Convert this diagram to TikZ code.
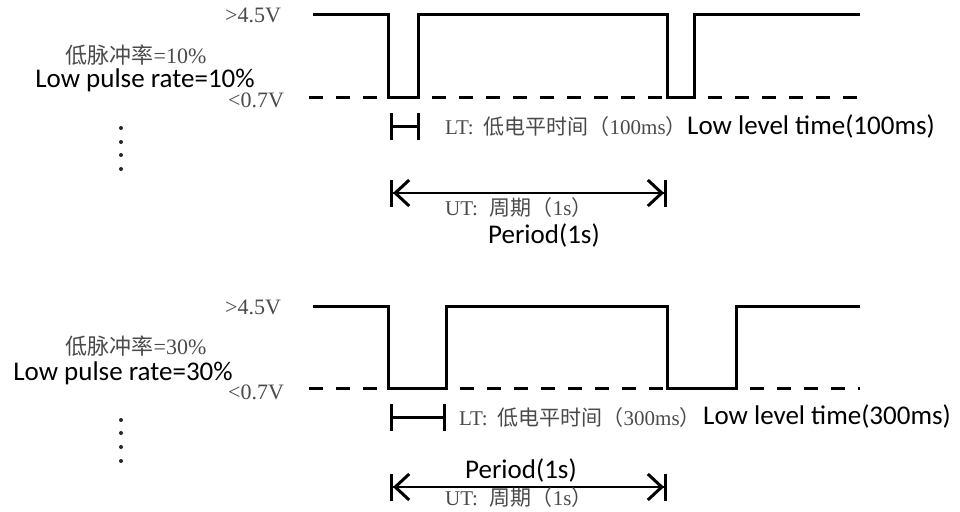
\documentclass[tikz,border=0pt]{standalone}
\usepackage{fontspec}
\setmainfont{Liberation Serif}
\newfontfamily\enfont{Carlito}
\newfontfamily\cjk{Noto Sans CJK SC}
\usetikzlibrary{arrows.meta}
\definecolor{gristexto}{HTML}{4A4A4A}

\begin{document}
\begin{tikzpicture}[x=1pt, y=-1pt,
    senal/.style={line width=3pt},
    guia/.style={line width=3pt, dash pattern=on 14pt off 13pt},
    tiempo/.style={line width=3pt, {Bar[width=27pt]}-{Bar[width=27pt]}},
    periodo/.style={line width=2pt,
        {Bar[width=27pt,line width=3pt]Straight Barb[length=14pt,width=26pt,line width=3pt]}-{Straight Barb[length=14pt,width=26pt,line width=3pt]Bar[width=27pt,line width=3pt]}},
    volt/.style={text=gristexto, inner sep=0pt, font=\fontsize{22}{22}\selectfont},
    rotulo/.style={text=gristexto, inner sep=0pt, anchor=west, font=\fontsize{21}{21}\selectfont},
    ingles/.style={inner sep=0pt, font=\enfont\fontsize{27}{27}\selectfont}]
    \useasboundingbox (0,0) rectangle (960,511);

    % Primera senal (10%)
    \draw[senal] (313,15) -- (388,15) -- (388,97) -- (418,97) -- (418,15)
        -- (667,15) -- (667,97) -- (694,97) -- (694,15) -- (860,15);
    \draw[guia] (309,97) -- (388,97);
    \draw[guia] (432,97) -- (667,97);
    \draw[guia] (708,97) -- (860,97);

    % Niveles y tasa
    \node[volt] (alto1) at (253,15) {>4.5V};
    \node[volt] (bajo1) at (256,100) {<0.7V};
    \node[volt] (tasa1) at (136,55) {{\cjk 低脉冲率}=10\%};
    \node[ingles] (rate1) at (145,80) {Low pulse rate=10\%};
    \foreach \y in {128,142,155,169}
        \fill[black!85] (121,\y) circle (2pt);

    % Tiempo bajo y periodo
    \coordinate (lt1a) at (390,126);
    \coordinate (lt1b) at (420,126);
    \draw[tiempo] (lt1a) -- (lt1b);
    \node[rotulo] (lt1) at (445,127) {LT:\hspace{10pt}{\cjk 低电平时间（}100ms{\cjk ）}};
    \node[ingles, anchor=west] (low1) at (687,126) {Low level time(100ms)};
    \coordinate (ut1a) at (390,193);
    \coordinate (ut1b) at (667,193);
    \draw[periodo] (ut1a) -- (ut1b);
    \node[rotulo] (ut1) at (445,208) {UT:\hspace{12pt}{\cjk 周期（}1s{\cjk ）}};
    \node[ingles, anchor=west] (per1) at (488,235) {Period(1s)};

    % Segunda senal (30%)
    \draw[senal] (313,306) -- (388,306) -- (388,388) -- (446,388) -- (446,306)
        -- (667,306) -- (667,388) -- (736,388) -- (736,306) -- (860,306);
    \draw[guia] (309,388) -- (388,388);
    \draw[guia] (460,388) -- (667,388);
    \draw[guia] (750,388) -- (860,388);

    % Niveles y tasa
    \node[volt] (alto2) at (253,307) {>4.5V};
    \node[volt] (bajo2) at (256,392) {<0.7V};
    \node[volt] (tasa2) at (136,346) {{\cjk 低脉冲率}=30\%};
    \node[ingles] (rate2) at (123,373) {Low pulse rate=30\%};
    \foreach \y in {420,433,447,461}
        \fill[black!85] (121,\y) circle (2pt);

    % Tiempo bajo y periodo
    \coordinate (lt2a) at (390,417);
    \coordinate (lt2b) at (446,417);
    \draw[tiempo] (lt2a) -- (lt2b);
    \node[rotulo] (lt2) at (459,418) {LT:\hspace{10pt}{\cjk 低电平时间（}300ms{\cjk ）}};
    \node[ingles, anchor=west] (low2) at (703,416) {Low level time(300ms)};
    \coordinate (ut2a) at (390,487);
    \coordinate (ut2b) at (667,487);
    \draw[periodo] (ut2a) -- (ut2b);
    \node[rotulo] (ut2) at (445,498) {UT:\hspace{12pt}{\cjk 周期（}1s{\cjk ）}};
    \node[ingles, anchor=west] (per2) at (465,470) {Period(1s)};
\end{tikzpicture}
\end{document}
